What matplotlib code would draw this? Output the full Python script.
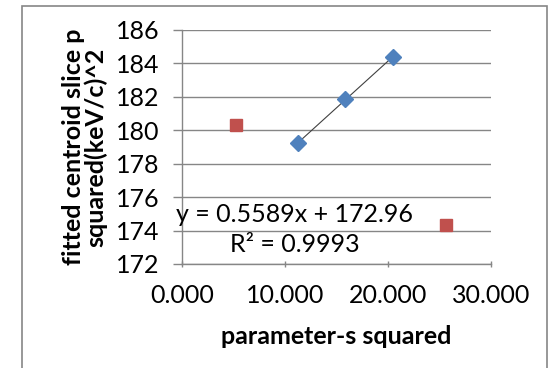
import matplotlib.pyplot as plt
from matplotlib.patches import Rectangle

plt.rcParams['font.family'] = ['Lato', 'DejaVu Sans']

# blue series (fitted) and red series
s_blue = [11.25, 15.85, 20.5]
p_blue = [179.25, 181.85, 184.4]
s_red = [5.25, 25.6]
p_red = [180.3, 174.35]

slope = 0.5589
icpt = 172.96
eq_text = "y = 0.5589x + 172.96"
r2_text = "R² = 0.9993"

xticks = [0, 10, 20, 30]
yticks = [172, 174, 176, 178, 180, 182, 184, 186]

fig = plt.figure(figsize=(5.52, 3.68), dpi=100)
ax = fig.add_axes([182/552, 1 - 264/368, (491-182)/552, (264-30)/368])

gray = '#868686'
fs = 18

# outer chart border
fig.patches.append(Rectangle((22/552, -0.1), (547-22)/552, 1.1 - 6/368,
                             transform=fig.transFigure, fill=False,
                             edgecolor=gray, lw=1.2))

ax.set_xlim(0, 30)
ax.set_ylim(172, 186)
ax.set_xticks(xticks)
ax.set_xticklabels(['%.3f' % v for v in xticks])
ax.set_yticks(yticks)
ax.grid(axis='y', color=gray, lw=1)
ax.set_axisbelow(True)

for side in ['top', 'right']:
    ax.spines[side].set_visible(False)
for side in ['left', 'bottom']:
    ax.spines[side].set_color(gray)
    ax.spines[side].set_linewidth(1)

ax.tick_params(axis='y', length=6.5, width=1, color=gray, pad=10, labelsize=fs)
ax.tick_params(axis='x', length=5, width=1, color=gray, pad=12, labelsize=fs,
               direction='inout')

# trendline over blue range
xs = [min(s_blue), max(s_blue)]
ax.plot(xs, [slope * v + icpt for v in xs], color='#404040', lw=0.8, zorder=3)

ax.plot(s_blue, p_blue, 'D', color='#4F81BD', markersize=8, zorder=4,
        clip_on=False)
ax.plot(s_red, p_red, 's', color='#C0504D', markersize=9, zorder=4,
        clip_on=False)

ax.text(10.95, 174.95, eq_text, fontsize=fs, ha='center', va='center')
ax.text(10.95, 173.15, r2_text, fontsize=fs, ha='center', va='center')

ax.set_xlabel('parameter-s squared', fontsize=fs, fontweight='bold', labelpad=13)
ax.set_ylabel('fitted centroid slice p\nsquared(keV/c)^2', fontsize=fs,
              fontweight='bold', labelpad=6, linespacing=0.95)

fig.savefig('out.png', dpi=100)
